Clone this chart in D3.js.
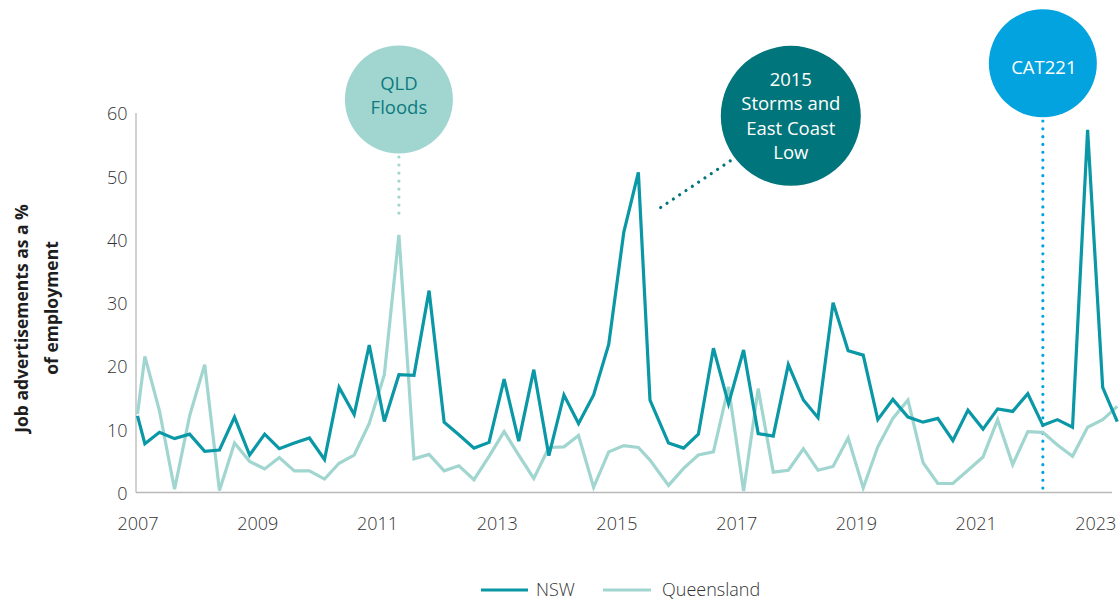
<!DOCTYPE html>
<html><head><meta charset="utf-8">
<script src="https://cdn.jsdelivr.net/npm/d3@7"></script>
<style>
html,body{margin:0;padding:0;background:#fff;}
svg{display:block;font-family:"Open Sans",sans-serif;}
</style></head>
<body><svg id="chart" width="1119" height="600"></svg>
<script>
// ---------- data ----------
const dates = [
 "2007-01-01","2007-02-15","2007-05-15","2007-08-15","2007-11-15",
 "2008-02-15","2008-05-15","2008-08-15","2008-11-15",
 "2009-02-15","2009-05-15","2009-08-15","2009-11-15",
 "2010-02-15","2010-05-15","2010-08-15","2010-11-15",
 "2011-02-15","2011-05-15","2011-08-15","2011-11-15",
 "2012-02-15","2012-05-15","2012-08-15","2012-11-15",
 "2013-02-15","2013-05-15","2013-08-15","2013-11-15",
 "2014-02-15","2014-05-15","2014-08-15","2014-11-15",
 "2015-02-15","2015-05-15","2015-07-25","2015-11-15",
 "2016-02-15","2016-05-15","2016-08-15","2016-11-15",
 "2017-02-15","2017-05-15","2017-08-15","2017-11-15",
 "2018-02-15","2018-05-15","2018-08-15","2018-11-15",
 "2019-02-15","2019-05-15","2019-08-15","2019-11-15",
 "2020-02-15","2020-05-15","2020-08-15","2020-11-15",
 "2021-02-15","2021-05-15","2021-08-15","2021-11-15",
 "2022-02-15","2022-05-15","2022-08-15","2022-11-15",
 "2023-02-15","2023-05-15"
];
const nswValues = [
 12.2, 7.8, 9.6, 8.6, 9.3,
 6.6, 6.8, 12.0, 6.0,
 9.3, 7.0, 7.9, 8.7,
 5.3, 16.7, 12.4, 23.4,
 11.3, 18.7, 18.6, 32.0,
 11.2, 9.2, 7.1, 8.0,
 18.0, 8.2, 19.5, 5.9,
 15.5, 11.0, 15.5, 23.5,
 41.2, 50.7, 14.7, 7.9,
 7.1, 9.3, 22.9, 14.1,
 22.6, 9.4, 9.0, 20.3,
 14.7, 11.9, 30.1, 22.5,
 21.8, 11.6, 14.8, 12.0,
 11.2, 11.8, 8.3, 13.1,
 10.1, 13.3, 12.9, 15.7,
 10.7, 11.6, 10.4, 57.4,
 16.7, 11.3
];
const queenslandValues = [
 12.5, 21.6, 13.0, 0.6, 12.2,
 20.3, 0.4, 7.9, 5.0,
 3.8, 5.6, 3.5, 3.5,
 2.2, 4.7, 6.0, 11.0,
 18.7, 40.8, 5.4, 6.1,
 3.5, 4.3, 2.1, 5.8,
 9.7, 6.0, 2.3, 7.2,
 7.3, 9.1, 0.9, 6.5,
 7.5, 7.2, 5.2, 1.2,
 3.9, 6.0, 6.5, 16.8,
 0.3, 16.5, 3.3, 3.6,
 7.0, 3.6, 4.2, 8.7,
 0.8, 7.3, 11.8, 14.7,
 4.8, 1.5, 1.5, 3.6,
 5.7, 11.6, 4.5, 9.7,
 9.6, 7.6, 5.8, 10.4,
 11.6, 13.7
];
const seriesNames = ["NSW", "Queensland"];
const yTickValues = [0, 10, 20, 30, 40, 50, 60];
const xTickYears = [2007, 2009, 2011, 2013, 2015, 2017, 2019, 2021, 2023];
const yAxisTitle = ["Job advertisements as a %", "of employment"];
const floodLabel = ["QLD", "Floods"];
const floodDate = "2011-05-15";
const stormLabel = ["2015", "Storms and", "East Coast", "Low"];
const catLabel = ["CAT221"];
const catDate = "2022-02-15";

// ---------- styles ----------
const C = {
  nsw: "#0a97a6",
  qld: "#a1d6d0",
  flood: "#a1d6d0",
  floodText: "#0d7a80",
  storm: "#00757b",
  cat: "#03a3df",
  axis: "#b8b8b8",
  text: "#333333",
  title: "#1e1e1e"
};

const parse = d3.timeParse("%Y-%m-%d");
const svg = d3.select("#chart");

const x = d3.scaleTime()
  .domain([new Date(2007, 0, 1), new Date(2023, 0, 1)])
  .range([137.5, 1095.3]);
const y = d3.scaleLinear().domain([0, 60]).range([493, 113.5]);

const AX_X = 136, AX_Y = 492.5, AX_RIGHT = 1112;

// y axis
const yAxis = svg.append("g").attr("transform", `translate(${AX_X},0)`)
  .call(d3.axisLeft(y).tickValues(yTickValues).tickSize(0).tickPadding(8.5));
yAxis.select(".domain").remove();
yAxis.selectAll("text").attr("font-size", 18).attr("font-weight", 300)
  .attr("fill", C.text).attr("font-family", "Open Sans").attr("dy", "0.36em");

// x axis
const xAxis = svg.append("g").attr("transform", `translate(0,${AX_Y})`)
  .call(d3.axisBottom(x).tickValues(xTickYears.map(v => new Date(v, 0, 1)))
    .tickFormat(d3.timeFormat("%Y")).tickSize(0).tickPadding(25));
xAxis.select(".domain").remove();
xAxis.selectAll("text").attr("font-size", 18).attr("font-weight", 300)
  .attr("fill", C.text).attr("font-family", "Open Sans");

// axis lines
svg.append("line").attr("x1", AX_X).attr("x2", AX_X).attr("y1", y(60) - 0.5).attr("y2", AX_Y)
  .attr("stroke", C.axis).attr("stroke-width", 1.3);
svg.append("line").attr("x1", AX_X).attr("x2", AX_RIGHT).attr("y1", AX_Y).attr("y2", AX_Y)
  .attr("stroke", C.axis).attr("stroke-width", 1.3);

// y axis title
const yt = svg.append("g").attr("transform", "rotate(-90)");
const titlePos = [{ mid: 318.5, base: 27.5 }, { mid: 308, base: 57.5 }];
yAxisTitle.forEach((t, i) => {
  yt.append("text").attr("x", -titlePos[i].mid).attr("y", titlePos[i].base)
    .attr("text-anchor", "middle").attr("font-size", 17.5).attr("font-weight", 700)
    .attr("fill", C.title).text(t);
});

// CAT221 dotted line (behind series)
const catX = x(parse(catDate));
svg.append("line").attr("x1", catX).attr("x2", catX).attr("y1", 121).attr("y2", 490)
  .attr("stroke", C.cat).attr("stroke-width", 3.2).attr("stroke-linecap", "round")
  .attr("stroke-dasharray", "0.01 7.8");

// series
const nswData = dates.map((d, i) => ({ date: parse(d), v: nswValues[i] }));
const qldData = dates.map((d, i) => ({ date: parse(d), v: queenslandValues[i] }));
const line = d3.line().x(d => x(d.date)).y(d => y(d.v));
svg.append("path").datum(qldData).attr("d", line).attr("fill", "none")
  .attr("stroke", C.qld).attr("stroke-width", 3.2).attr("stroke-linejoin", "miter");
svg.append("path").datum(nswData).attr("d", line).attr("fill", "none")
  .attr("stroke", C.nsw).attr("stroke-width", 3.2).attr("stroke-linejoin", "miter");

// QLD floods bubble
const fX = x(parse(floodDate));
svg.append("line").attr("x1", fX).attr("x2", fX).attr("y1", 157).attr("y2", 221)
  .attr("stroke", C.flood).attr("stroke-width", 3.2).attr("stroke-linecap", "round")
  .attr("stroke-dasharray", "0.01 8");
svg.append("circle").attr("cx", fX).attr("cy", 99.5).attr("r", 54).attr("fill", C.flood);
floodLabel.forEach((t, i) => {
  svg.append("text").attr("x", fX).attr("y", 84 + i * 23.5).attr("dy", "0.35em")
    .attr("text-anchor", "middle").attr("font-size", 18.5).attr("fill", C.floodText).text(t);
});

// 2015 storms bubble
svg.append("line").attr("x1", 660.7).attr("y1", 207.5).attr("x2", 736).attr("y2", 157)
  .attr("stroke", C.storm).attr("stroke-width", 3.2).attr("stroke-linecap", "round")
  .attr("stroke-dasharray", "0.01 7.6");
svg.append("circle").attr("cx", 790.8).attr("cy", 115.8).attr("r", 70).attr("fill", C.storm);
stormLabel.forEach((t, i) => {
  svg.append("text").attr("x", 790.8).attr("y", 79.3 + i * 24.5).attr("dy", "0.35em")
    .attr("text-anchor", "middle").attr("font-size", 18.5).attr("fill", "#ffffff").text(t);
});

// CAT221 bubble
svg.append("circle").attr("cx", catX).attr("cy", 63.3).attr("r", 54).attr("fill", C.cat);
catLabel.forEach(t => {
  svg.append("text").attr("x", catX + 1).attr("y", 67.5).attr("dy", "0.35em")
    .attr("text-anchor", "middle").attr("font-size", 18.5).attr("fill", "#ffffff").text(t);
});

// legend
const legendItems = [
  { name: seriesNames[0], color: C.nsw, x1: 481, x2: 528, tx: 536 },
  { name: seriesNames[1], color: C.qld, x1: 603, x2: 651, tx: 662 }
];
legendItems.forEach(it => {
  svg.append("line").attr("x1", it.x1).attr("x2", it.x2).attr("y1", 590).attr("y2", 590)
    .attr("stroke", it.color).attr("stroke-width", 3.2);
  svg.append("text").attr("x", it.tx).attr("y", 590).attr("dy", "0.35em")
    .attr("font-size", 18).attr("font-weight", 300).attr("fill", C.text).text(it.name);
});
</script>
</body></html>
